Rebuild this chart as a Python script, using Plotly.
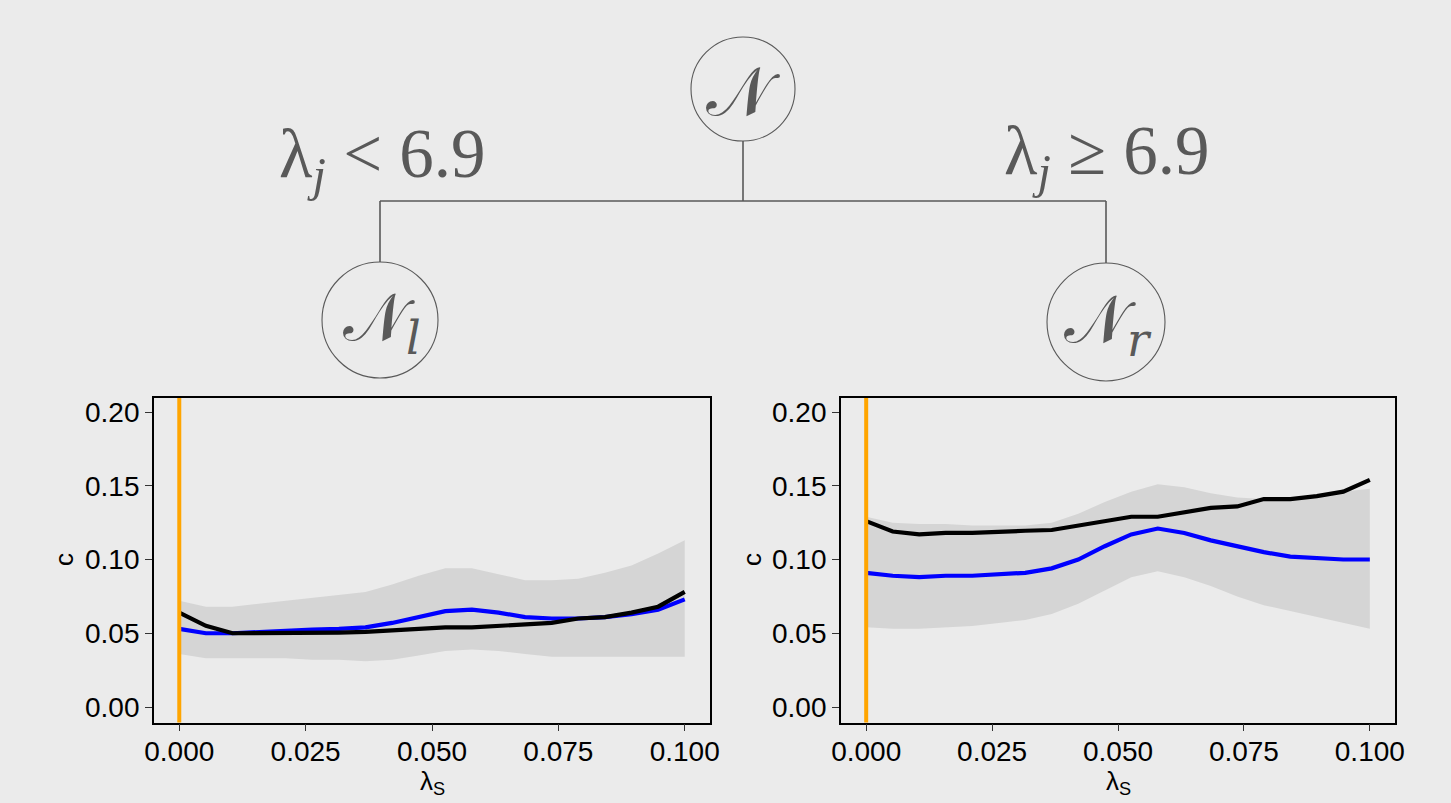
import plotly.graph_objects as go

# ---------------- data ----------------
lam_s = [i * 0.1 / 19 for i in range(20)]

left_black = [0.064, 0.055, 0.050, 0.050, 0.050, 0.050, 0.0505, 0.051, 0.052, 0.053,
              0.054, 0.054, 0.055, 0.056, 0.057, 0.060, 0.061, 0.064, 0.068, 0.078]
left_blue = [0.053, 0.050, 0.050, 0.051, 0.052, 0.0525, 0.053, 0.054, 0.057, 0.061,
             0.065, 0.066, 0.064, 0.061, 0.060, 0.060, 0.061, 0.063, 0.066, 0.073]
left_upper = [0.072, 0.068, 0.068, 0.070, 0.072, 0.074, 0.076, 0.078, 0.083, 0.089,
              0.094, 0.094, 0.090, 0.086, 0.086, 0.087, 0.091, 0.096, 0.104, 0.113]
left_lower = [0.036, 0.033, 0.033, 0.033, 0.033, 0.032, 0.032, 0.031, 0.032, 0.035,
              0.038, 0.039, 0.038, 0.036, 0.034, 0.034, 0.034, 0.034, 0.034, 0.034]

right_black = [0.126, 0.119, 0.117, 0.118, 0.118, 0.119, 0.1195, 0.120, 0.123, 0.126,
               0.129, 0.129, 0.132, 0.135, 0.136, 0.141, 0.141, 0.143, 0.146, 0.154]
right_blue = [0.091, 0.089, 0.088, 0.089, 0.089, 0.090, 0.091, 0.094, 0.100, 0.109,
              0.117, 0.121, 0.118, 0.113, 0.109, 0.105, 0.102, 0.101, 0.100, 0.100]
right_upper = [0.129, 0.125, 0.124, 0.124, 0.123, 0.123, 0.123, 0.125, 0.131, 0.139,
               0.146, 0.151, 0.149, 0.145, 0.142, 0.141, 0.142, 0.144, 0.146, 0.148]
right_lower = [0.054, 0.053, 0.053, 0.054, 0.055, 0.057, 0.059, 0.063, 0.070, 0.079,
               0.088, 0.092, 0.088, 0.082, 0.075, 0.069, 0.065, 0.061, 0.057, 0.053]

x_ticks = [0.0, 0.025, 0.05, 0.075, 0.1]
x_tick_labels = ["0.000", "0.025", "0.050", "0.075", "0.100"]
y_ticks = [0.0, 0.05, 0.1, 0.15, 0.2]
y_tick_labels = ["0.00", "0.05", "0.10", "0.15", "0.20"]
split_value = 6.9
vline_x = 0.0

# ---------------- layout helpers ----------------
W, H = 1451, 803
BG = "#EBEBEB"
GREY = "#595959"


def px(x):
    return x / W


def py(y):
    return 1 - y / H


fig = go.Figure()

panels = [
    ("x", "y", left_black, left_blue, left_upper, left_lower),
    ("x2", "y2", right_black, right_blue, right_upper, right_lower),
]
for xa, ya, blk, blu, up, lo in panels:
    fig.add_trace(go.Scatter(x=lam_s, y=lo, mode="lines", line=dict(width=0),
                             xaxis=xa, yaxis=ya, showlegend=False, hoverinfo="skip"))
    fig.add_trace(go.Scatter(x=lam_s, y=up, mode="lines", line=dict(width=0),
                             fill="tonexty", fillcolor="#D5D5D5",
                             xaxis=xa, yaxis=ya, showlegend=False, hoverinfo="skip"))
    fig.add_trace(go.Scatter(x=lam_s, y=blu, mode="lines", line=dict(color="#0000FF", width=4.2),
                             xaxis=xa, yaxis=ya, showlegend=False))
    fig.add_trace(go.Scatter(x=lam_s, y=blk, mode="lines", line=dict(color="#000000", width=4.2),
                             xaxis=xa, yaxis=ya, showlegend=False))

tickfont = dict(family="Liberation Sans, Arial, sans-serif", size=28, color="#000000")
axis_common = dict(
    showgrid=False, zeroline=False, showline=True, linecolor="#000000", linewidth=1.8,
    mirror=True, ticks="outside", ticklen=7, tickwidth=1.3, tickcolor="#333333",
    tickfont=tickfont, automargin=False,
)
xr = [-0.005, 0.105]
yr = [-0.0105, 0.2095]
ydom = [py(722.5), py(398)]

fig.update_layout(
    xaxis=dict(domain=[px(154), px(710)], range=xr, tickvals=x_ticks, ticktext=x_tick_labels,
               anchor="y", ticklabelstandoff=-4, **axis_common),
    yaxis=dict(domain=ydom, range=yr, tickvals=y_ticks, ticktext=y_tick_labels,
               anchor="x", **axis_common),
    xaxis2=dict(domain=[px(841), px(1395)], range=xr, tickvals=x_ticks, ticktext=x_tick_labels,
                anchor="y2", ticklabelstandoff=-4, **axis_common),
    yaxis2=dict(domain=ydom, range=yr, tickvals=y_ticks, ticktext=y_tick_labels,
                anchor="x2", **axis_common),
)

shapes = []
# orange vertical reference lines
for xr_, yr_ in [("x", "y domain"), ("x2", "y2 domain")]:
    shapes.append(dict(type="line", xref=xr_, yref=yr_, x0=vline_x, x1=vline_x, y0=0, y1=1,
                       line=dict(color="#FFA500", width=4), layer="above"))

# tree diagram
tree_line = dict(color=GREY, width=1.6)
shapes += [
    dict(type="line", xref="paper", yref="paper", x0=px(743), x1=px(743), y0=py(141), y1=py(201), line=tree_line),
    dict(type="line", xref="paper", yref="paper", x0=px(380), x1=px(1106), y0=py(201), y1=py(201), line=tree_line),
    dict(type="line", xref="paper", yref="paper", x0=px(380), x1=px(380), y0=py(201), y1=py(262), line=tree_line),
    dict(type="line", xref="paper", yref="paper", x0=px(1106), x1=px(1106), y0=py(201), y1=py(263), line=tree_line),
]
for cx, cy, r in [(743, 89, 52), (380, 320, 58), (1106, 322, 59)]:
    shapes.append(dict(type="circle", xref="paper", yref="paper",
                       x0=px(cx - r), x1=px(cx + r), y0=py(cy + r), y1=py(cy - r),
                       line=dict(color=GREY, width=1.1), fillcolor="rgba(0,0,0,0)"))

annotations = []
mathfont = dict(family="DejaVu Serif, Liberation Serif, serif", color=GREY)
annotations.append(dict(xref="paper", yref="paper", x=px(743), y=py(91), showarrow=False,
                        text="𝒩", font=dict(size=68, **mathfont), xanchor="center", yanchor="middle"))
annotations.append(dict(xref="paper", yref="paper", x=px(382), y=py(322), showarrow=False,
                        text="𝒩<sub><i>l</i></sub>", font=dict(size=66, **mathfont),
                        xanchor="center", yanchor="middle"))
annotations.append(dict(xref="paper", yref="paper", x=px(1108), y=py(324), showarrow=False,
                        text="𝒩<sub><i>r</i></sub>", font=dict(size=66, **mathfont),
                        xanchor="center", yanchor="middle"))
annotations.append(dict(xref="paper", yref="paper", x=px(382), y=py(158), showarrow=False,
                        text=f"λ<sub><i>j</i></sub>&nbsp;&lt;&nbsp;{split_value}",
                        font=dict(size=69, family="Liberation Serif, serif", color=GREY),
                        xanchor="center", yanchor="middle"))
annotations.append(dict(xref="paper", yref="paper", x=px(1107), y=py(155), showarrow=False,
                        text=f"λ<sub><i>j</i></sub>&nbsp;≥&nbsp;{split_value}",
                        font=dict(size=69, family="Liberation Serif, serif", color=GREY),
                        xanchor="center", yanchor="middle"))

# axis titles
titlefont = dict(family="Liberation Sans, Arial, sans-serif", size=26, color="#000000")
for xc, yc in [(64, 560), (752, 560)]:
    annotations.append(dict(xref="paper", yref="paper", x=px(xc), y=py(yc), showarrow=False,
                            text="c", textangle=-90, font=titlefont,
                            xanchor="center", yanchor="middle"))
for xc in [432, 1118]:
    annotations.append(dict(xref="paper", yref="paper", x=px(xc), y=py(782), showarrow=False,
                            text="λ<sub>S</sub>", font=titlefont,
                            xanchor="center", yanchor="middle"))

fig.update_layout(
    width=W, height=H,
    margin=dict(l=0, r=0, t=0, b=0),
    paper_bgcolor=BG, plot_bgcolor=BG,
    shapes=shapes, annotations=annotations,
    showlegend=False,
)

fig.write_html(
    "out.html",
    config={"displayModeBar": False},
    post_script="document.body.style.margin='0';document.body.style.overflow='hidden';",
)
